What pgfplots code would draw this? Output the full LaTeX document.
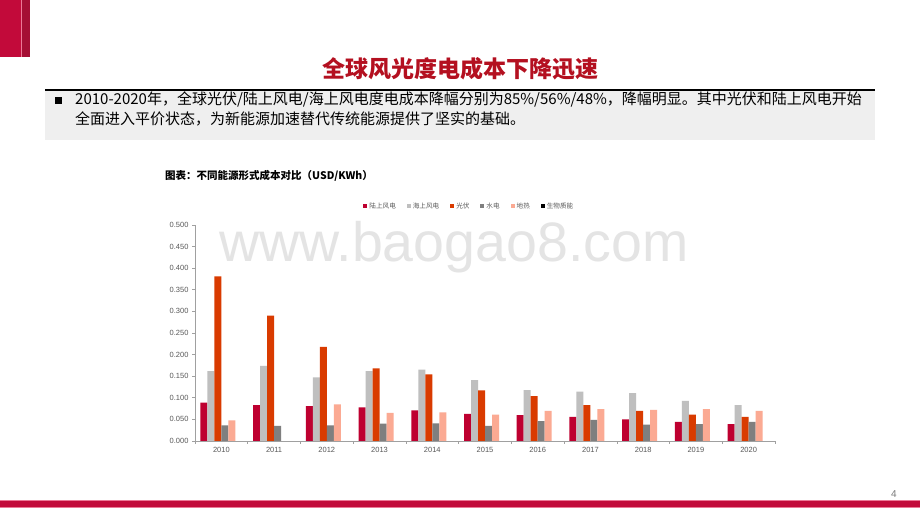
\documentclass[border=0pt]{standalone}
\usepackage{fontspec}
\setmainfont{Liberation Sans}
\newfontfamily\cjk{Noto Sans CJK SC}
\usepackage{pgfplots}
\pgfplotsset{compat=1.18}
\definecolor{brand}{RGB}{194,10,58}
\definecolor{branddark}{RGB}{165,14,52}
\definecolor{brandpink}{RGB}{236,120,150}
\definecolor{titlered}{RGB}{180,16,32}
\definecolor{boxgray}{RGB}{239,239,239}
\definecolor{axisgray}{RGB}{160,160,160}
\definecolor{tickgray}{RGB}{89,89,89}
\definecolor{wm}{RGB}{228,228,228}
\definecolor{cA}{RGB}{190,0,48}
\definecolor{cB}{RGB}{191,191,191}
\definecolor{cC}{RGB}{217,59,0}
\definecolor{cD}{RGB}{127,127,127}
\definecolor{cE}{RGB}{251,170,147}
\pgfplotsset{sqlegend/.style={legend image code/.code={\fill[##1] (0pt,-2pt) rectangle (4pt,2pt);}}}
\begin{document}
\begin{tikzpicture}[x=1pt,y=1pt]
\useasboundingbox (0,0) rectangle (920,518);
\fill[white] (0,0) rectangle (920,518);
% top-left block
\fill[brand] (0,518) rectangle (21,461);
\fill[branddark] (21,518) rectangle (30,461);
\draw[brandpink, line width=0.6pt] (21,518) -- (21,461);
% title
\node[anchor=base, text=titlered, font=\cjk\bfseries\fontsize{23}{26}\selectfont, inner sep=0pt] at (460,440) {全球风光度电成本下降迅速};
% text box
\fill[boxgray] (45,378) rectangle (875,427);
\draw[black, line width=1.5pt] (45,428) -- (875,428);
\fill[black] (55,414) rectangle (62,421);
\node[anchor=base west, inner sep=0pt, font=\cjk\fontsize{15}{17}\selectfont] at (75,413) {2010-2020年，全球光伏/陆上风电/海上风电度电成本降幅分别为85\%/56\%/48\%，降幅明显。其中光伏和陆上风电开始};
\node[anchor=base west, inner sep=0pt, font=\cjk\fontsize{15}{17}\selectfont] at (75,393) {全面进入平价状态，为新能源加速替代传统能源提供了坚实的基础。};
% caption
\node[anchor=base west, inner sep=0pt, font=\cjk\bfseries\fontsize{10.5}{12}\selectfont] at (165,338) {图表：不同能源形式成本对比（USD/KWh）};
% watermark
\node[anchor=base, inner sep=0pt, text=wm, font=\fontsize{55.5}{60}\selectfont] at (454,256) {www.baogao8.com};
% bottom bar
\fill[brandpink] (0,10) rectangle (920,17.5);
\fill[brand] (0,11) rectangle (920,16.5);
\node[anchor=base, inner sep=0pt, text=tickgray!80, font=\fontsize{10}{12}\selectfont] at (894,20) {4};
\begin{axis}[
  at={(195pt,77pt)}, anchor=south west,
  scale only axis, width=580pt, height=216pt,
  ybar, bar width=7pt,
  xmin=0, xmax=11, ymin=0, ymax=0.5,
  axis x line*=bottom, axis y line*=left,
  axis line style={draw=axisgray, line width=0.8pt, -},
  tick style={draw=axisgray, line width=0.6pt},
  tick align=outside, major tick length=3pt,
  xtick={0,1,...,11}, x tick label as interval,
  xticklabels={2010,2011,2012,2013,2014,2015,2016,2017,2018,2019,2020},
  ytick={0,0.05,0.1,0.15,0.2,0.25,0.3,0.35,0.4,0.45,0.5},
  yticklabel style={/pgf/number format/.cd, fixed, fixed zerofill, precision=3, assume math mode=true},
  ticklabel style={font=\fontsize{7.5}{9}\selectfont, text=tickgray},
  legend columns=6,
  legend style={draw=none, fill=none, at={(0.473,1.088)}, anchor=center,
    font=\cjk\fontsize{6.6}{8}\selectfont, text=tickgray,
    /tikz/every even column/.append style={column sep=9pt},
    inner sep=0pt},
  legend cell align=left,
]
\addplot[sqlegend, fill=cA, draw=none, bar shift=-17.5pt] coordinates {
(0.5,0.089) (1.5,0.083) (2.5,0.081) (3.5,0.078) (4.5,0.071) (5.5,0.063)
(6.5,0.060) (7.5,0.056) (8.5,0.050) (9.5,0.044) (10.5,0.039)};
\addlegendentry{陆上风电}
\addplot[sqlegend, fill=cB, draw=none, bar shift=-10.5pt] coordinates {
(0.5,0.162) (1.5,0.174) (2.5,0.147) (3.5,0.162) (4.5,0.165) (5.5,0.141)
(6.5,0.118) (7.5,0.114) (8.5,0.111) (9.5,0.093) (10.5,0.083)};
\addlegendentry{海上风电}
\addplot[sqlegend, fill=cC, draw=none, bar shift=-3.5pt] coordinates {
(0.5,0.381) (1.5,0.290) (2.5,0.218) (3.5,0.168) (4.5,0.154) (5.5,0.117)
(6.5,0.104) (7.5,0.083) (8.5,0.070) (9.5,0.061) (10.5,0.056)};
\addlegendentry{光伏}
\addplot[sqlegend, fill=cD, draw=none, bar shift=3.5pt] coordinates {
(0.5,0.036) (1.5,0.035) (2.5,0.036) (3.5,0.040) (4.5,0.041) (5.5,0.035)
(6.5,0.046) (7.5,0.049) (8.5,0.038) (9.5,0.039) (10.5,0.044)};
\addlegendentry{水电}
\addplot[sqlegend, fill=cE, draw=none, bar shift=10.5pt] coordinates {
(0.5,0.048) (2.5,0.085) (3.5,0.065) (4.5,0.066) (5.5,0.061)
(6.5,0.070) (7.5,0.074) (8.5,0.072) (9.5,0.074) (10.5,0.070)};
\addlegendentry{地热}
\addlegendimage{sqlegend, fill=black, draw=none}
\addlegendentry{生物质能}
\end{axis}
\end{tikzpicture}
\end{document}
